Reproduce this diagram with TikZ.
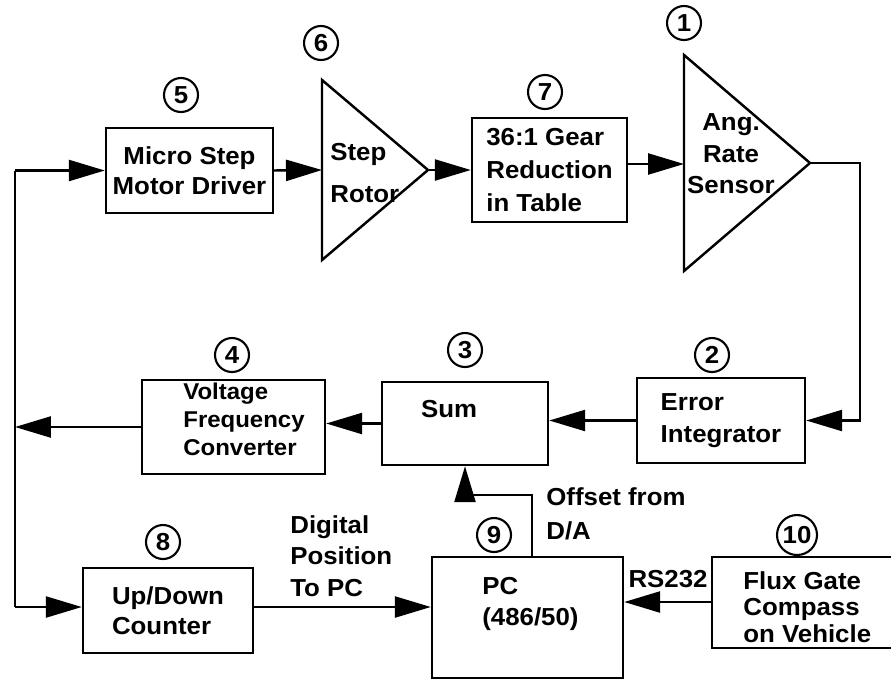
\documentclass[tikz,border=0pt]{standalone}
\usepackage{fontspec}
\setmainfont{Liberation Sans}[FakeStretch=1.05]
\usetikzlibrary{arrows.meta, calc}

\begin{document}
\begin{tikzpicture}[x=0.02cm, y=-0.02cm,
  blk/.style={draw, line width=1.4pt, inner sep=0pt, font=\fontsize{14}{17}\selectfont\bfseries},
  num/.style={draw, circle, line width=1.2pt, minimum size=0.68cm, inner sep=0pt, font=\fontsize{14}{17}\selectfont\bfseries},
  lbl/.style={inner sep=0pt, font=\fontsize{14}{17}\selectfont\bfseries},
  wire/.style={line width=1.4pt},
  arr/.style={wire, -{Triangle[length=0.72cm, width=0.42cm]}}]

  \useasboundingbox (0,0) rectangle (891,683);

  %% Top row: driver, rotor, gear, sensor
  \node[blk, minimum width=3.34cm, minimum height=1.70cm, align=center] (drv) at (189.5,170.5)
    {Micro Step\\Motor Driver};
  \draw[wire] (322,80) -- (428,170) coordinate (rot-out) -- (322,260) -- cycle;
  \coordinate (rot-in) at (322,170);
  \node[lbl, align=left, anchor=west] (rot-txt) at (330,173) {Step\\[7pt]Rotor};

  \node[blk, minimum width=3.10cm, minimum height=2.08cm, align=left] (gear) at (549.5,170)
    {36:1 Gear\\[2pt]Reduction\\[2pt]in Table};
  \draw[wire] (684,55) -- (810,163) coordinate (ars-out) -- (684,271) -- cycle;
  \coordinate (ars-in) at (684,164);
  \node[lbl, align=center] (ars-txt) at (731,154) {Ang.\\[1pt]Rate\\[1pt]Sensor};

  %% Middle row: integrator, sum, V/F converter
  \node[blk, minimum width=3.36cm, minimum height=1.70cm, align=left] (err) at (721,420.5)
    {Error\\[1pt]Integrator};
  \node[blk, minimum width=3.32cm, minimum height=1.66cm] (sum) at (465,423.5) {};
  \node[lbl] (sum-txt) at (449,409) {Sum};
  \node[blk, minimum width=3.66cm, minimum height=1.88cm] (vfc) at (233.5,427) {};
  \node[lbl, font=\fontsize{13}{16}\selectfont\bfseries, align=left, anchor=west] (vfc-txt) at (183,419)
    {Voltage\\Frequency\\Converter};

  %% Bottom row: counter, PC, compass
  \node[blk, minimum width=3.40cm, minimum height=1.70cm, align=left] (cnt) at (168,610.5)
    {Up/Down\\Counter};
  \node[blk, minimum width=3.82cm, minimum height=2.42cm] (pc) at (527.5,617.5) {};
  \node[lbl, align=left, anchor=west] (pc-txt) at (482,604) {PC\\[1pt](486/50)};
  \node[blk, minimum width=4.60cm, minimum height=1.82cm] (flux) at (827,602.5) {};
  \node[lbl, align=left, anchor=west] (flux-txt) at (743,607) {Flux Gate\\[-2pt]Compass\\[-2pt]on Vehicle};

  %% Step numbers
  \node[num] (n1) at (684,23) {1};
  \node[num] (n2) at (712,355) {2};
  \node[num] (n3) at (465,350) {3};
  \node[num] (n4) at (232,355) {4};
  \node[num] (n5) at (181,95) {5};
  \node[num] (n6) at (321,43) {6};
  \node[num] (n7) at (545,92) {7};
  \node[num] (n8) at (163,542) {8};
  \node[num] (n9) at (494,535) {9};
  \node[num, minimum size=0.8cm] (n10) at (797,535) {10};

  %% Signal labels
  \node[lbl, align=left, anchor=west] (dig) at (290,556) {Digital\\[1pt]Position\\[1pt]To PC};
  \node[lbl, align=left, anchor=west] (offs) at (546,514) {Offset from\\[2pt]D/A};
  \node[lbl] (rs) at (668,579) {RS232};

  %% Forward path
  \draw[arr] (drv.east) -- (rot-in);
  \draw[arr] (rot-out) -- (gear.west |- rot-out);
  \draw[arr] (gear.east |- ars-in) -- (ars-in);
  \draw[arr] (ars-out) -- ++(50,0) coordinate (ret) |- (err.east);
  \draw[arr] (err.west) -- (err.west -| sum.east);
  \draw[arr] (sum.west) -- (sum.west -| vfc.east);

  %% Pulse bus on the left
  \coordinate (bus-top) at (15,170.5);
  \coordinate (bus-bot) at (15,607);
  \draw[arr] (vfc.west) -- (vfc.west -| bus-top);
  \draw[wire] (bus-top) -- (bus-bot);
  \draw[arr] (bus-top) -- (drv.west);
  \draw[arr] (bus-bot) -- (bus-bot -| cnt.west);

  %% PC links
  \draw[arr] (bus-bot -| cnt.east) -- (bus-bot -| pc.west);
  \draw[arr] (flux.west |- 0,602) -- (pc.east |- 0,602);
  \coordinate (da) at (532,557);
  \draw[arr] (da) -- (532,495) -| (sum.south);

\end{tikzpicture}
\end{document}
